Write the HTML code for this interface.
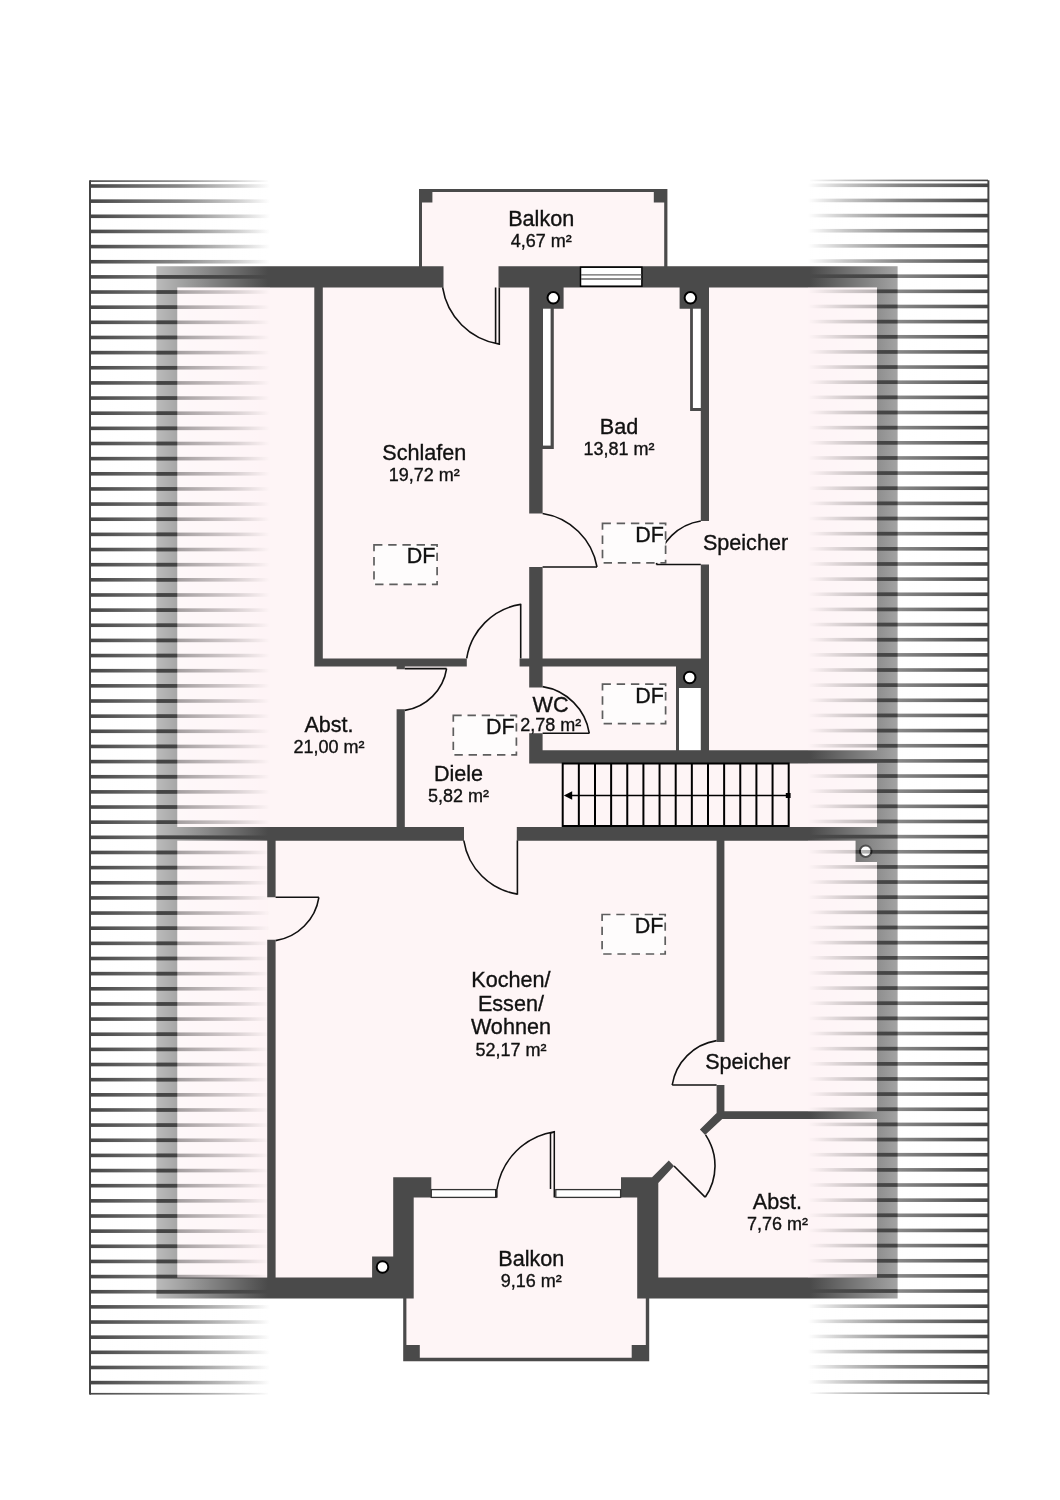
<!DOCTYPE html>
<html lang="de"><head><meta charset="utf-8"><title>Grundriss</title>
<style>html,body{margin:0;padding:0;background:#fff;} body{width:1060px;height:1500px;overflow:hidden;font-family:"Liberation Sans",sans-serif;} svg{display:block;will-change:transform;} text{fill:#111;stroke:#111;stroke-width:0.35px;}</style>
</head><body>
<svg width="1060" height="1500" viewBox="0 0 1060 1500" font-family="Liberation Sans, sans-serif" fill="#111"><defs>
<linearGradient id="gL" x1="90" y1="0" x2="270" y2="0" gradientUnits="userSpaceOnUse">
<stop offset="0" stop-color="#404040" stop-opacity="0.97"/><stop offset="0.5" stop-color="#404040" stop-opacity="0.62"/><stop offset="0.8" stop-color="#404040" stop-opacity="0.28"/><stop offset="1" stop-color="#404040" stop-opacity="0"/></linearGradient>
<linearGradient id="gR" x1="988" y1="0" x2="808" y2="0" gradientUnits="userSpaceOnUse">
<stop offset="0" stop-color="#404040" stop-opacity="0.97"/><stop offset="0.5" stop-color="#404040" stop-opacity="0.62"/><stop offset="0.8" stop-color="#404040" stop-opacity="0.28"/><stop offset="1" stop-color="#404040" stop-opacity="0"/></linearGradient>
<linearGradient id="wL" x1="90" y1="0" x2="268" y2="0" gradientUnits="userSpaceOnUse">
<stop offset="0" stop-color="#fff" stop-opacity="1"/><stop offset="1" stop-color="#fff" stop-opacity="0"/></linearGradient>
<linearGradient id="wR" x1="988" y1="0" x2="810" y2="0" gradientUnits="userSpaceOnUse">
<stop offset="0" stop-color="#fff" stop-opacity="1"/><stop offset="1" stop-color="#fff" stop-opacity="0"/></linearGradient>
</defs><rect x="157.00" y="266.50" width="740.50" height="1031.50" fill="#fef5f6" />
<rect x="419.00" y="189.00" width="248.40" height="78.00" fill="#fef5f6" />
<rect x="403.20" y="1290.00" width="246.00" height="71.20" fill="#fef5f6" />
<path d="M156.40,266.30H443.50V287.40H156.40ZM498.50,266.30H897.60V287.40H498.50ZM156.40,266.30H177.30V1298.40H156.40ZM877.00,266.30H897.60V1298.40H877.00ZM156.40,1277.60H413.70V1298.40H156.40ZM637.20,1277.60H897.60V1298.40H637.20ZM419.00,189.00H667.40V192.00H419.00ZM419.00,189.00H422.00V267.00H419.00ZM664.20,189.00H667.40V267.00H664.20ZM419.00,189.00H432.40V202.60H419.00ZM653.80,189.00H667.40V202.60H653.80ZM403.20,1298.00H406.40V1361.20H403.20ZM645.80,1298.00H649.20V1361.20H645.80ZM403.20,1357.80H649.20V1361.20H403.20ZM403.20,1345.00H419.80V1361.20H403.20ZM631.70,1345.00H649.20V1361.20H631.70ZM393.20,1177.30H413.70V1298.40H393.20ZM393.20,1177.30H431.30V1197.60H393.20ZM637.20,1177.30H658.30V1298.40H637.20ZM621.00,1177.30H658.30V1197.60H621.00ZM314.30,287.00H322.80V666.60H314.30ZM314.30,658.40H466.80V666.60H314.30ZM519.60,658.40H709.00V666.60H519.60ZM529.20,287.00H542.60V513.50H529.20ZM529.20,567.00H542.60V687.50H529.20ZM529.20,733.30H542.60V763.50H529.20ZM700.80,287.00H709.00V521.00H700.80ZM700.80,564.50H709.00V763.50H700.80ZM542.60,287.00H563.60V308.70H542.60ZM679.60,287.00H701.00V308.70H679.60ZM542.60,308.70H553.80V449.00H542.60ZM690.10,308.70H701.00V411.00H690.10ZM676.00,666.60H701.00V688.00H676.00ZM676.00,687.50H701.00V750.40H676.00ZM690.10,308.70H701.00V411.00H690.10ZM676.00,666.60H701.00V688.00H676.00ZM676.00,687.50H701.00V750.40H676.00ZM529.20,750.20H897.60V763.50H529.20ZM156.40,827.00H464.00V840.70H156.40ZM516.80,827.00H897.60V840.70H516.80ZM396.60,658.40H404.80V669.30H396.60ZM396.60,709.30H404.80V827.00H396.60ZM267.20,840.50H275.60V897.30H267.20ZM267.20,939.80H275.60V1277.60H267.20ZM716.60,840.50H724.40V1042.00H716.60ZM716.60,1085.00H724.40V1119.00H716.60ZM716.60,1111.30H897.50V1119.00H716.60ZM716.6,1111.3L724.4,1111.3L724.4,1117L705.1,1134.9L699.9,1129.4L716.6,1112.9ZM668.8,1160.4L674.0,1166.0L658.3,1183.0L651.8,1177.4ZM855.50,840.50H877.00V862.00H855.50ZM372.10,1256.50H393.20V1277.70H372.10Z" fill="#4a4a4a"/>
<rect x="543.0" y="308.7" width="7.60" height="136.90" fill="#fff"/>
<rect x="692.9" y="308.7" width="7.90" height="99.30" fill="#fff"/>
<rect x="679.0" y="688.0" width="21.80" height="62.20" fill="#fff"/>
<circle cx="553.3" cy="297.8" r="5.8" fill="#fff" stroke="#000" stroke-width="2.0"/>
<circle cx="690.4" cy="297.8" r="5.8" fill="#fff" stroke="#000" stroke-width="2.0"/>
<circle cx="689.7" cy="677.5" r="5.8" fill="#fff" stroke="#000" stroke-width="2.0"/>
<circle cx="865.7" cy="851.2" r="5.8" fill="#fff" stroke="#000" stroke-width="2.0"/>
<circle cx="382.5" cy="1267.0" r="5.8" fill="#fff" stroke="#000" stroke-width="2.0"/>
<rect x="580.5" y="267.2" width="61.4" height="19.0" fill="#fff" stroke="#000" stroke-width="1.5"/>
<line x1="581.00" y1="274.90" x2="641.50" y2="274.90" stroke="#666" stroke-width="1.3"/>
<line x1="581.00" y1="279.00" x2="641.50" y2="279.00" stroke="#666" stroke-width="1.3"/>
<rect x="431.3" y="1189.6" width="64.8" height="7.8" fill="#fff" stroke="#333" stroke-width="1.3"/>
<rect x="555.8" y="1189.6" width="64.8" height="7.8" fill="#fff" stroke="#333" stroke-width="1.3"/>
<rect x="495.00" y="1189.00" width="2.60" height="8.60" fill="#222" />
<path d="M442.6,287.4 A68,68 0 0 0 499.3,344.1 V287.4 M495.6,287.6 V343.8" fill="none" stroke="#111" stroke-width="1.6"/>
<line x1="542.60" y1="567.00" x2="597.00" y2="567.00" stroke="#111" stroke-width="1.6"/>
<path d="M542.60,513.50 A65.28,65.28 0 0 1 597.00,567.00" fill="none" stroke="#111" stroke-width="1.6"/>
<line x1="700.80" y1="564.50" x2="656.40" y2="564.50" stroke="#111" stroke-width="1.6"/>
<path d="M656.40,564.50 A53.28,53.28 0 0 1 700.80,521.00" fill="none" stroke="#111" stroke-width="1.6"/>
<line x1="520.70" y1="603.80" x2="520.70" y2="658.40" stroke="#111" stroke-width="1.6"/>
<path d="M466.70,658.40 A64.80,64.80 0 0 1 520.70,604.40" fill="none" stroke="#111" stroke-width="1.6"/>
<line x1="404.80" y1="668.60" x2="446.60" y2="668.60" stroke="#111" stroke-width="1.6"/>
<path d="M446.60,668.60 A50.16,50.16 0 0 1 404.80,710.40" fill="none" stroke="#111" stroke-width="1.6"/>
<line x1="542.60" y1="733.30" x2="589.30" y2="733.30" stroke="#111" stroke-width="1.6"/>
<path d="M542.60,686.60 A56.04,56.04 0 0 1 589.30,733.30" fill="none" stroke="#111" stroke-width="1.6"/>
<line x1="517.40" y1="840.50" x2="517.40" y2="894.70" stroke="#111" stroke-width="1.6"/>
<path d="M463.80,840.50 A64.32,64.32 0 0 0 517.40,894.10" fill="none" stroke="#111" stroke-width="1.6"/>
<line x1="275.60" y1="897.30" x2="318.90" y2="897.30" stroke="#111" stroke-width="1.6"/>
<path d="M318.90,897.30 A51.96,51.96 0 0 1 275.60,940.60" fill="none" stroke="#111" stroke-width="1.6"/>
<line x1="716.60" y1="1085.00" x2="672.20" y2="1085.00" stroke="#111" stroke-width="1.6"/>
<path d="M672.20,1085.00 A53.28,53.28 0 0 1 716.60,1040.60" fill="none" stroke="#111" stroke-width="1.6"/>
<line x1="674.00" y1="1166.00" x2="705.10" y2="1197.10" stroke="#111" stroke-width="1.6"/>
<path d="M705.2,1197.3 A55.5,55.5 0 0 0 705.6,1134.9" fill="none" stroke="#111" stroke-width="1.6"/>
<path d="M497,1189 A68.8,68.8 0 0 1 554.3,1131.7 V1197.5 M554.3,1131.7 L550.5,1133.4 V1189" fill="none" stroke="#111" stroke-width="1.5" stroke-linejoin="miter"/>
<rect x="562.7" y="763.5" width="226.0" height="62.5" fill="none" stroke="#000" stroke-width="2"/>
<line x1="578.84" y1="763.50" x2="578.84" y2="826.00" stroke="#000" stroke-width="2"/>
<line x1="594.99" y1="763.50" x2="594.99" y2="826.00" stroke="#000" stroke-width="2"/>
<line x1="611.13" y1="763.50" x2="611.13" y2="826.00" stroke="#000" stroke-width="2"/>
<line x1="627.27" y1="763.50" x2="627.27" y2="826.00" stroke="#000" stroke-width="2"/>
<line x1="643.41" y1="763.50" x2="643.41" y2="826.00" stroke="#000" stroke-width="2"/>
<line x1="659.56" y1="763.50" x2="659.56" y2="826.00" stroke="#000" stroke-width="2"/>
<line x1="675.70" y1="763.50" x2="675.70" y2="826.00" stroke="#000" stroke-width="2"/>
<line x1="691.84" y1="763.50" x2="691.84" y2="826.00" stroke="#000" stroke-width="2"/>
<line x1="707.99" y1="763.50" x2="707.99" y2="826.00" stroke="#000" stroke-width="2"/>
<line x1="724.13" y1="763.50" x2="724.13" y2="826.00" stroke="#000" stroke-width="2"/>
<line x1="740.27" y1="763.50" x2="740.27" y2="826.00" stroke="#000" stroke-width="2"/>
<line x1="756.41" y1="763.50" x2="756.41" y2="826.00" stroke="#000" stroke-width="2"/>
<line x1="772.56" y1="763.50" x2="772.56" y2="826.00" stroke="#000" stroke-width="2"/>
<line x1="570.00" y1="795.50" x2="788.00" y2="795.50" stroke="#000" stroke-width="1.6"/>
<polygon points="563.8,795.5 572.2,791.2 572.2,799.8" fill="#000"/>
<rect x="785.80" y="793.00" width="4.80" height="5.00" fill="#000" />
<rect x="374.00" y="544.80" width="63.1" height="39.5" fill="#fefcfc" stroke="#5e5e5e" stroke-width="1.7" stroke-dasharray="8.4,5.8"/>
<text x="435.30" y="563.40" font-size="21.5" text-anchor="end">DF</text>
<rect x="602.50" y="523.40" width="63.1" height="39.5" fill="#fefcfc" stroke="#5e5e5e" stroke-width="1.7" stroke-dasharray="8.4,5.8"/>
<text x="663.80" y="542.00" font-size="21.5" text-anchor="end">DF</text>
<rect x="602.50" y="684.10" width="63.1" height="39.5" fill="#fefcfc" stroke="#5e5e5e" stroke-width="1.7" stroke-dasharray="8.4,5.8"/>
<text x="663.80" y="702.70" font-size="21.5" text-anchor="end">DF</text>
<rect x="453.30" y="715.30" width="63.1" height="39.5" fill="#fefcfc" stroke="#5e5e5e" stroke-width="1.7" stroke-dasharray="8.4,5.8"/>
<text x="514.60" y="733.90" font-size="21.5" text-anchor="end">DF</text>
<rect x="602.10" y="914.50" width="63.1" height="39.5" fill="#fefcfc" stroke="#5e5e5e" stroke-width="1.7" stroke-dasharray="8.4,5.8"/>
<text x="663.40" y="933.10" font-size="21.5" text-anchor="end">DF</text>
<text x="541.20" y="225.80" font-size="21.6" text-anchor="middle">Balkon</text>
<text x="541.20" y="246.80" font-size="18.0" text-anchor="middle">4,67 m²</text>
<text x="424.30" y="459.70" font-size="21.6" text-anchor="middle">Schlafen</text>
<text x="424.30" y="480.70" font-size="18.0" text-anchor="middle">19,72 m²</text>
<text x="619.00" y="433.90" font-size="21.6" text-anchor="middle">Bad</text>
<text x="619.00" y="454.90" font-size="18.0" text-anchor="middle">13,81 m²</text>
<text x="745.50" y="549.60" font-size="21.6" text-anchor="middle">Speicher</text>
<text x="329.00" y="731.70" font-size="21.6" text-anchor="middle">Abst.</text>
<text x="329.00" y="752.70" font-size="18.0" text-anchor="middle">21,00 m²</text>
<text x="550.50" y="712.00" font-size="21.6" text-anchor="middle">WC</text>
<text x="550.70" y="730.80" font-size="18.0" text-anchor="middle">2,78 m²</text>
<text x="458.50" y="780.50" font-size="21.6" text-anchor="middle">Diele</text>
<text x="458.50" y="801.50" font-size="18.0" text-anchor="middle">5,82 m²</text>
<text x="510.90" y="986.90" font-size="21.6" text-anchor="middle">Kochen/</text>
<text x="510.90" y="1010.60" font-size="21.6" text-anchor="middle">Essen/</text>
<text x="510.90" y="1034.40" font-size="21.6" text-anchor="middle">Wohnen</text>
<text x="510.90" y="1055.50" font-size="18.0" text-anchor="middle">52,17 m²</text>
<text x="747.80" y="1069.30" font-size="21.6" text-anchor="middle">Speicher</text>
<text x="777.40" y="1209.40" font-size="21.6" text-anchor="middle">Abst.</text>
<text x="777.40" y="1230.40" font-size="18.0" text-anchor="middle">7,76 m²</text>
<text x="531.30" y="1265.50" font-size="21.6" text-anchor="middle">Balkon</text>
<text x="531.30" y="1286.50" font-size="18.0" text-anchor="middle">9,16 m²</text>
<rect x="90" y="182.00" width="178" height="2.20" fill="url(#wL)"/>
<rect x="810" y="181.30" width="178" height="2.20" fill="url(#wR)"/>
<rect x="90" y="187.80" width="178" height="11.55" fill="url(#wL)"/>
<rect x="810" y="187.10" width="178" height="11.55" fill="url(#wR)"/>
<rect x="90" y="202.95" width="178" height="11.55" fill="url(#wL)"/>
<rect x="810" y="202.25" width="178" height="11.55" fill="url(#wR)"/>
<rect x="90" y="218.09" width="178" height="11.55" fill="url(#wL)"/>
<rect x="810" y="217.39" width="178" height="11.55" fill="url(#wR)"/>
<rect x="90" y="233.24" width="178" height="11.55" fill="url(#wL)"/>
<rect x="810" y="232.54" width="178" height="11.55" fill="url(#wR)"/>
<rect x="90" y="248.39" width="178" height="11.55" fill="url(#wL)"/>
<rect x="810" y="247.69" width="178" height="11.55" fill="url(#wR)"/>
<rect x="90" y="263.54" width="178" height="11.55" fill="url(#wL)"/>
<rect x="810" y="262.84" width="178" height="11.55" fill="url(#wR)"/>
<rect x="90" y="278.68" width="178" height="11.55" fill="url(#wL)"/>
<rect x="810" y="277.98" width="178" height="11.55" fill="url(#wR)"/>
<rect x="90" y="293.83" width="178" height="11.55" fill="url(#wL)"/>
<rect x="810" y="293.13" width="178" height="11.55" fill="url(#wR)"/>
<rect x="90" y="308.98" width="178" height="11.55" fill="url(#wL)"/>
<rect x="810" y="308.28" width="178" height="11.55" fill="url(#wR)"/>
<rect x="90" y="324.12" width="178" height="11.55" fill="url(#wL)"/>
<rect x="810" y="323.42" width="178" height="11.55" fill="url(#wR)"/>
<rect x="90" y="339.27" width="178" height="11.55" fill="url(#wL)"/>
<rect x="810" y="338.57" width="178" height="11.55" fill="url(#wR)"/>
<rect x="90" y="354.42" width="178" height="11.55" fill="url(#wL)"/>
<rect x="810" y="353.72" width="178" height="11.55" fill="url(#wR)"/>
<rect x="90" y="369.56" width="178" height="11.55" fill="url(#wL)"/>
<rect x="810" y="368.86" width="178" height="11.55" fill="url(#wR)"/>
<rect x="90" y="384.71" width="178" height="11.55" fill="url(#wL)"/>
<rect x="810" y="384.01" width="178" height="11.55" fill="url(#wR)"/>
<rect x="90" y="399.86" width="178" height="11.55" fill="url(#wL)"/>
<rect x="810" y="399.16" width="178" height="11.55" fill="url(#wR)"/>
<rect x="90" y="415.01" width="178" height="11.55" fill="url(#wL)"/>
<rect x="810" y="414.31" width="178" height="11.55" fill="url(#wR)"/>
<rect x="90" y="430.15" width="178" height="11.55" fill="url(#wL)"/>
<rect x="810" y="429.45" width="178" height="11.55" fill="url(#wR)"/>
<rect x="90" y="445.30" width="178" height="11.55" fill="url(#wL)"/>
<rect x="810" y="444.60" width="178" height="11.55" fill="url(#wR)"/>
<rect x="90" y="460.45" width="178" height="11.55" fill="url(#wL)"/>
<rect x="810" y="459.75" width="178" height="11.55" fill="url(#wR)"/>
<rect x="90" y="475.59" width="178" height="11.55" fill="url(#wL)"/>
<rect x="810" y="474.89" width="178" height="11.55" fill="url(#wR)"/>
<rect x="90" y="490.74" width="178" height="11.55" fill="url(#wL)"/>
<rect x="810" y="490.04" width="178" height="11.55" fill="url(#wR)"/>
<rect x="90" y="505.89" width="178" height="11.55" fill="url(#wL)"/>
<rect x="810" y="505.19" width="178" height="11.55" fill="url(#wR)"/>
<rect x="90" y="521.03" width="178" height="11.55" fill="url(#wL)"/>
<rect x="810" y="520.33" width="178" height="11.55" fill="url(#wR)"/>
<rect x="90" y="536.18" width="178" height="11.55" fill="url(#wL)"/>
<rect x="810" y="535.48" width="178" height="11.55" fill="url(#wR)"/>
<rect x="90" y="551.33" width="178" height="11.55" fill="url(#wL)"/>
<rect x="810" y="550.63" width="178" height="11.55" fill="url(#wR)"/>
<rect x="90" y="566.47" width="178" height="11.55" fill="url(#wL)"/>
<rect x="810" y="565.77" width="178" height="11.55" fill="url(#wR)"/>
<rect x="90" y="581.62" width="178" height="11.55" fill="url(#wL)"/>
<rect x="810" y="580.92" width="178" height="11.55" fill="url(#wR)"/>
<rect x="90" y="596.77" width="178" height="11.55" fill="url(#wL)"/>
<rect x="810" y="596.07" width="178" height="11.55" fill="url(#wR)"/>
<rect x="90" y="611.92" width="178" height="11.55" fill="url(#wL)"/>
<rect x="810" y="611.22" width="178" height="11.55" fill="url(#wR)"/>
<rect x="90" y="627.06" width="178" height="11.55" fill="url(#wL)"/>
<rect x="810" y="626.36" width="178" height="11.55" fill="url(#wR)"/>
<rect x="90" y="642.21" width="178" height="11.55" fill="url(#wL)"/>
<rect x="810" y="641.51" width="178" height="11.55" fill="url(#wR)"/>
<rect x="90" y="657.36" width="178" height="11.55" fill="url(#wL)"/>
<rect x="810" y="656.66" width="178" height="11.55" fill="url(#wR)"/>
<rect x="90" y="672.50" width="178" height="11.55" fill="url(#wL)"/>
<rect x="810" y="671.80" width="178" height="11.55" fill="url(#wR)"/>
<rect x="90" y="687.65" width="178" height="11.55" fill="url(#wL)"/>
<rect x="810" y="686.95" width="178" height="11.55" fill="url(#wR)"/>
<rect x="90" y="702.80" width="178" height="11.55" fill="url(#wL)"/>
<rect x="810" y="702.10" width="178" height="11.55" fill="url(#wR)"/>
<rect x="90" y="717.94" width="178" height="11.55" fill="url(#wL)"/>
<rect x="810" y="717.24" width="178" height="11.55" fill="url(#wR)"/>
<rect x="90" y="733.09" width="178" height="11.55" fill="url(#wL)"/>
<rect x="810" y="732.39" width="178" height="11.55" fill="url(#wR)"/>
<rect x="90" y="748.24" width="178" height="11.55" fill="url(#wL)"/>
<rect x="810" y="747.54" width="178" height="11.55" fill="url(#wR)"/>
<rect x="90" y="763.39" width="178" height="11.55" fill="url(#wL)"/>
<rect x="810" y="762.69" width="178" height="11.55" fill="url(#wR)"/>
<rect x="90" y="778.53" width="178" height="11.55" fill="url(#wL)"/>
<rect x="810" y="777.83" width="178" height="11.55" fill="url(#wR)"/>
<rect x="90" y="793.68" width="178" height="11.55" fill="url(#wL)"/>
<rect x="810" y="792.98" width="178" height="11.55" fill="url(#wR)"/>
<rect x="90" y="808.83" width="178" height="11.55" fill="url(#wL)"/>
<rect x="810" y="808.13" width="178" height="11.55" fill="url(#wR)"/>
<rect x="90" y="823.97" width="178" height="11.55" fill="url(#wL)"/>
<rect x="810" y="823.27" width="178" height="11.55" fill="url(#wR)"/>
<rect x="90" y="839.12" width="178" height="11.55" fill="url(#wL)"/>
<rect x="810" y="838.42" width="178" height="11.55" fill="url(#wR)"/>
<rect x="90" y="854.27" width="178" height="11.55" fill="url(#wL)"/>
<rect x="810" y="853.57" width="178" height="11.55" fill="url(#wR)"/>
<rect x="90" y="869.41" width="178" height="11.55" fill="url(#wL)"/>
<rect x="810" y="868.71" width="178" height="11.55" fill="url(#wR)"/>
<rect x="90" y="884.56" width="178" height="11.55" fill="url(#wL)"/>
<rect x="810" y="883.86" width="178" height="11.55" fill="url(#wR)"/>
<rect x="90" y="899.71" width="178" height="11.55" fill="url(#wL)"/>
<rect x="810" y="899.01" width="178" height="11.55" fill="url(#wR)"/>
<rect x="90" y="914.86" width="178" height="11.55" fill="url(#wL)"/>
<rect x="810" y="914.16" width="178" height="11.55" fill="url(#wR)"/>
<rect x="90" y="930.00" width="178" height="11.55" fill="url(#wL)"/>
<rect x="810" y="929.30" width="178" height="11.55" fill="url(#wR)"/>
<rect x="90" y="945.15" width="178" height="11.55" fill="url(#wL)"/>
<rect x="810" y="944.45" width="178" height="11.55" fill="url(#wR)"/>
<rect x="90" y="960.30" width="178" height="11.55" fill="url(#wL)"/>
<rect x="810" y="959.60" width="178" height="11.55" fill="url(#wR)"/>
<rect x="90" y="975.44" width="178" height="11.55" fill="url(#wL)"/>
<rect x="810" y="974.74" width="178" height="11.55" fill="url(#wR)"/>
<rect x="90" y="990.59" width="178" height="11.55" fill="url(#wL)"/>
<rect x="810" y="989.89" width="178" height="11.55" fill="url(#wR)"/>
<rect x="90" y="1005.74" width="178" height="11.55" fill="url(#wL)"/>
<rect x="810" y="1005.04" width="178" height="11.55" fill="url(#wR)"/>
<rect x="90" y="1020.88" width="178" height="11.55" fill="url(#wL)"/>
<rect x="810" y="1020.18" width="178" height="11.55" fill="url(#wR)"/>
<rect x="90" y="1036.03" width="178" height="11.55" fill="url(#wL)"/>
<rect x="810" y="1035.33" width="178" height="11.55" fill="url(#wR)"/>
<rect x="90" y="1051.18" width="178" height="11.55" fill="url(#wL)"/>
<rect x="810" y="1050.48" width="178" height="11.55" fill="url(#wR)"/>
<rect x="90" y="1066.33" width="178" height="11.55" fill="url(#wL)"/>
<rect x="810" y="1065.63" width="178" height="11.55" fill="url(#wR)"/>
<rect x="90" y="1081.47" width="178" height="11.55" fill="url(#wL)"/>
<rect x="810" y="1080.77" width="178" height="11.55" fill="url(#wR)"/>
<rect x="90" y="1096.62" width="178" height="11.55" fill="url(#wL)"/>
<rect x="810" y="1095.92" width="178" height="11.55" fill="url(#wR)"/>
<rect x="90" y="1111.77" width="178" height="11.55" fill="url(#wL)"/>
<rect x="810" y="1111.07" width="178" height="11.55" fill="url(#wR)"/>
<rect x="90" y="1126.91" width="178" height="11.55" fill="url(#wL)"/>
<rect x="810" y="1126.21" width="178" height="11.55" fill="url(#wR)"/>
<rect x="90" y="1142.06" width="178" height="11.55" fill="url(#wL)"/>
<rect x="810" y="1141.36" width="178" height="11.55" fill="url(#wR)"/>
<rect x="90" y="1157.21" width="178" height="11.55" fill="url(#wL)"/>
<rect x="810" y="1156.51" width="178" height="11.55" fill="url(#wR)"/>
<rect x="90" y="1172.36" width="178" height="11.55" fill="url(#wL)"/>
<rect x="810" y="1171.65" width="178" height="11.55" fill="url(#wR)"/>
<rect x="90" y="1187.50" width="178" height="11.55" fill="url(#wL)"/>
<rect x="810" y="1186.80" width="178" height="11.55" fill="url(#wR)"/>
<rect x="90" y="1202.65" width="178" height="11.55" fill="url(#wL)"/>
<rect x="810" y="1201.95" width="178" height="11.55" fill="url(#wR)"/>
<rect x="90" y="1217.80" width="178" height="11.55" fill="url(#wL)"/>
<rect x="810" y="1217.10" width="178" height="11.55" fill="url(#wR)"/>
<rect x="90" y="1232.94" width="178" height="11.55" fill="url(#wL)"/>
<rect x="810" y="1232.24" width="178" height="11.55" fill="url(#wR)"/>
<rect x="90" y="1248.09" width="178" height="11.55" fill="url(#wL)"/>
<rect x="810" y="1247.39" width="178" height="11.55" fill="url(#wR)"/>
<rect x="90" y="1263.24" width="178" height="11.55" fill="url(#wL)"/>
<rect x="810" y="1262.54" width="178" height="11.55" fill="url(#wR)"/>
<rect x="90" y="1278.38" width="178" height="11.55" fill="url(#wL)"/>
<rect x="810" y="1277.68" width="178" height="11.55" fill="url(#wR)"/>
<rect x="90" y="1293.53" width="178" height="11.55" fill="url(#wL)"/>
<rect x="810" y="1292.83" width="178" height="11.55" fill="url(#wR)"/>
<rect x="90" y="1308.68" width="178" height="11.55" fill="url(#wL)"/>
<rect x="810" y="1307.98" width="178" height="11.55" fill="url(#wR)"/>
<rect x="90" y="1323.83" width="178" height="11.55" fill="url(#wL)"/>
<rect x="810" y="1323.12" width="178" height="11.55" fill="url(#wR)"/>
<rect x="90" y="1338.97" width="178" height="11.55" fill="url(#wL)"/>
<rect x="810" y="1338.27" width="178" height="11.55" fill="url(#wR)"/>
<rect x="90" y="1354.12" width="178" height="11.55" fill="url(#wL)"/>
<rect x="810" y="1353.42" width="178" height="11.55" fill="url(#wR)"/>
<rect x="90" y="1369.27" width="178" height="11.55" fill="url(#wL)"/>
<rect x="810" y="1368.57" width="178" height="11.55" fill="url(#wR)"/>
<rect x="90" y="1384.41" width="178" height="8.59" fill="url(#wL)"/>
<rect x="810" y="1383.71" width="178" height="8.59" fill="url(#wR)"/>
<rect x="90" y="184.20" width="182" height="3.6" fill="url(#gL)"/>
<rect x="806" y="183.50" width="182" height="3.6" fill="url(#gR)"/>
<rect x="90" y="199.35" width="182" height="3.6" fill="url(#gL)"/>
<rect x="806" y="198.65" width="182" height="3.6" fill="url(#gR)"/>
<rect x="90" y="214.49" width="182" height="3.6" fill="url(#gL)"/>
<rect x="806" y="213.79" width="182" height="3.6" fill="url(#gR)"/>
<rect x="90" y="229.64" width="182" height="3.6" fill="url(#gL)"/>
<rect x="806" y="228.94" width="182" height="3.6" fill="url(#gR)"/>
<rect x="90" y="244.79" width="182" height="3.6" fill="url(#gL)"/>
<rect x="806" y="244.09" width="182" height="3.6" fill="url(#gR)"/>
<rect x="90" y="259.94" width="182" height="3.6" fill="url(#gL)"/>
<rect x="806" y="259.24" width="182" height="3.6" fill="url(#gR)"/>
<rect x="90" y="275.08" width="182" height="3.6" fill="url(#gL)"/>
<rect x="806" y="274.38" width="182" height="3.6" fill="url(#gR)"/>
<rect x="90" y="290.23" width="182" height="3.6" fill="url(#gL)"/>
<rect x="806" y="289.53" width="182" height="3.6" fill="url(#gR)"/>
<rect x="90" y="305.38" width="182" height="3.6" fill="url(#gL)"/>
<rect x="806" y="304.68" width="182" height="3.6" fill="url(#gR)"/>
<rect x="90" y="320.52" width="182" height="3.6" fill="url(#gL)"/>
<rect x="806" y="319.82" width="182" height="3.6" fill="url(#gR)"/>
<rect x="90" y="335.67" width="182" height="3.6" fill="url(#gL)"/>
<rect x="806" y="334.97" width="182" height="3.6" fill="url(#gR)"/>
<rect x="90" y="350.82" width="182" height="3.6" fill="url(#gL)"/>
<rect x="806" y="350.12" width="182" height="3.6" fill="url(#gR)"/>
<rect x="90" y="365.96" width="182" height="3.6" fill="url(#gL)"/>
<rect x="806" y="365.26" width="182" height="3.6" fill="url(#gR)"/>
<rect x="90" y="381.11" width="182" height="3.6" fill="url(#gL)"/>
<rect x="806" y="380.41" width="182" height="3.6" fill="url(#gR)"/>
<rect x="90" y="396.26" width="182" height="3.6" fill="url(#gL)"/>
<rect x="806" y="395.56" width="182" height="3.6" fill="url(#gR)"/>
<rect x="90" y="411.41" width="182" height="3.6" fill="url(#gL)"/>
<rect x="806" y="410.71" width="182" height="3.6" fill="url(#gR)"/>
<rect x="90" y="426.55" width="182" height="3.6" fill="url(#gL)"/>
<rect x="806" y="425.85" width="182" height="3.6" fill="url(#gR)"/>
<rect x="90" y="441.70" width="182" height="3.6" fill="url(#gL)"/>
<rect x="806" y="441.00" width="182" height="3.6" fill="url(#gR)"/>
<rect x="90" y="456.85" width="182" height="3.6" fill="url(#gL)"/>
<rect x="806" y="456.15" width="182" height="3.6" fill="url(#gR)"/>
<rect x="90" y="471.99" width="182" height="3.6" fill="url(#gL)"/>
<rect x="806" y="471.29" width="182" height="3.6" fill="url(#gR)"/>
<rect x="90" y="487.14" width="182" height="3.6" fill="url(#gL)"/>
<rect x="806" y="486.44" width="182" height="3.6" fill="url(#gR)"/>
<rect x="90" y="502.29" width="182" height="3.6" fill="url(#gL)"/>
<rect x="806" y="501.59" width="182" height="3.6" fill="url(#gR)"/>
<rect x="90" y="517.43" width="182" height="3.6" fill="url(#gL)"/>
<rect x="806" y="516.73" width="182" height="3.6" fill="url(#gR)"/>
<rect x="90" y="532.58" width="182" height="3.6" fill="url(#gL)"/>
<rect x="806" y="531.88" width="182" height="3.6" fill="url(#gR)"/>
<rect x="90" y="547.73" width="182" height="3.6" fill="url(#gL)"/>
<rect x="806" y="547.03" width="182" height="3.6" fill="url(#gR)"/>
<rect x="90" y="562.88" width="182" height="3.6" fill="url(#gL)"/>
<rect x="806" y="562.17" width="182" height="3.6" fill="url(#gR)"/>
<rect x="90" y="578.02" width="182" height="3.6" fill="url(#gL)"/>
<rect x="806" y="577.32" width="182" height="3.6" fill="url(#gR)"/>
<rect x="90" y="593.17" width="182" height="3.6" fill="url(#gL)"/>
<rect x="806" y="592.47" width="182" height="3.6" fill="url(#gR)"/>
<rect x="90" y="608.32" width="182" height="3.6" fill="url(#gL)"/>
<rect x="806" y="607.62" width="182" height="3.6" fill="url(#gR)"/>
<rect x="90" y="623.46" width="182" height="3.6" fill="url(#gL)"/>
<rect x="806" y="622.76" width="182" height="3.6" fill="url(#gR)"/>
<rect x="90" y="638.61" width="182" height="3.6" fill="url(#gL)"/>
<rect x="806" y="637.91" width="182" height="3.6" fill="url(#gR)"/>
<rect x="90" y="653.76" width="182" height="3.6" fill="url(#gL)"/>
<rect x="806" y="653.06" width="182" height="3.6" fill="url(#gR)"/>
<rect x="90" y="668.90" width="182" height="3.6" fill="url(#gL)"/>
<rect x="806" y="668.20" width="182" height="3.6" fill="url(#gR)"/>
<rect x="90" y="684.05" width="182" height="3.6" fill="url(#gL)"/>
<rect x="806" y="683.35" width="182" height="3.6" fill="url(#gR)"/>
<rect x="90" y="699.20" width="182" height="3.6" fill="url(#gL)"/>
<rect x="806" y="698.50" width="182" height="3.6" fill="url(#gR)"/>
<rect x="90" y="714.35" width="182" height="3.6" fill="url(#gL)"/>
<rect x="806" y="713.64" width="182" height="3.6" fill="url(#gR)"/>
<rect x="90" y="729.49" width="182" height="3.6" fill="url(#gL)"/>
<rect x="806" y="728.79" width="182" height="3.6" fill="url(#gR)"/>
<rect x="90" y="744.64" width="182" height="3.6" fill="url(#gL)"/>
<rect x="806" y="743.94" width="182" height="3.6" fill="url(#gR)"/>
<rect x="90" y="759.79" width="182" height="3.6" fill="url(#gL)"/>
<rect x="806" y="759.09" width="182" height="3.6" fill="url(#gR)"/>
<rect x="90" y="774.93" width="182" height="3.6" fill="url(#gL)"/>
<rect x="806" y="774.23" width="182" height="3.6" fill="url(#gR)"/>
<rect x="90" y="790.08" width="182" height="3.6" fill="url(#gL)"/>
<rect x="806" y="789.38" width="182" height="3.6" fill="url(#gR)"/>
<rect x="90" y="805.23" width="182" height="3.6" fill="url(#gL)"/>
<rect x="806" y="804.53" width="182" height="3.6" fill="url(#gR)"/>
<rect x="90" y="820.37" width="182" height="3.6" fill="url(#gL)"/>
<rect x="806" y="819.67" width="182" height="3.6" fill="url(#gR)"/>
<rect x="90" y="835.52" width="182" height="3.6" fill="url(#gL)"/>
<rect x="806" y="834.82" width="182" height="3.6" fill="url(#gR)"/>
<rect x="90" y="850.67" width="182" height="3.6" fill="url(#gL)"/>
<rect x="806" y="849.97" width="182" height="3.6" fill="url(#gR)"/>
<rect x="90" y="865.82" width="182" height="3.6" fill="url(#gL)"/>
<rect x="806" y="865.12" width="182" height="3.6" fill="url(#gR)"/>
<rect x="90" y="880.96" width="182" height="3.6" fill="url(#gL)"/>
<rect x="806" y="880.26" width="182" height="3.6" fill="url(#gR)"/>
<rect x="90" y="896.11" width="182" height="3.6" fill="url(#gL)"/>
<rect x="806" y="895.41" width="182" height="3.6" fill="url(#gR)"/>
<rect x="90" y="911.26" width="182" height="3.6" fill="url(#gL)"/>
<rect x="806" y="910.56" width="182" height="3.6" fill="url(#gR)"/>
<rect x="90" y="926.40" width="182" height="3.6" fill="url(#gL)"/>
<rect x="806" y="925.70" width="182" height="3.6" fill="url(#gR)"/>
<rect x="90" y="941.55" width="182" height="3.6" fill="url(#gL)"/>
<rect x="806" y="940.85" width="182" height="3.6" fill="url(#gR)"/>
<rect x="90" y="956.70" width="182" height="3.6" fill="url(#gL)"/>
<rect x="806" y="956.00" width="182" height="3.6" fill="url(#gR)"/>
<rect x="90" y="971.84" width="182" height="3.6" fill="url(#gL)"/>
<rect x="806" y="971.14" width="182" height="3.6" fill="url(#gR)"/>
<rect x="90" y="986.99" width="182" height="3.6" fill="url(#gL)"/>
<rect x="806" y="986.29" width="182" height="3.6" fill="url(#gR)"/>
<rect x="90" y="1002.14" width="182" height="3.6" fill="url(#gL)"/>
<rect x="806" y="1001.44" width="182" height="3.6" fill="url(#gR)"/>
<rect x="90" y="1017.29" width="182" height="3.6" fill="url(#gL)"/>
<rect x="806" y="1016.59" width="182" height="3.6" fill="url(#gR)"/>
<rect x="90" y="1032.43" width="182" height="3.6" fill="url(#gL)"/>
<rect x="806" y="1031.73" width="182" height="3.6" fill="url(#gR)"/>
<rect x="90" y="1047.58" width="182" height="3.6" fill="url(#gL)"/>
<rect x="806" y="1046.88" width="182" height="3.6" fill="url(#gR)"/>
<rect x="90" y="1062.73" width="182" height="3.6" fill="url(#gL)"/>
<rect x="806" y="1062.03" width="182" height="3.6" fill="url(#gR)"/>
<rect x="90" y="1077.87" width="182" height="3.6" fill="url(#gL)"/>
<rect x="806" y="1077.17" width="182" height="3.6" fill="url(#gR)"/>
<rect x="90" y="1093.02" width="182" height="3.6" fill="url(#gL)"/>
<rect x="806" y="1092.32" width="182" height="3.6" fill="url(#gR)"/>
<rect x="90" y="1108.17" width="182" height="3.6" fill="url(#gL)"/>
<rect x="806" y="1107.47" width="182" height="3.6" fill="url(#gR)"/>
<rect x="90" y="1123.31" width="182" height="3.6" fill="url(#gL)"/>
<rect x="806" y="1122.61" width="182" height="3.6" fill="url(#gR)"/>
<rect x="90" y="1138.46" width="182" height="3.6" fill="url(#gL)"/>
<rect x="806" y="1137.76" width="182" height="3.6" fill="url(#gR)"/>
<rect x="90" y="1153.61" width="182" height="3.6" fill="url(#gL)"/>
<rect x="806" y="1152.91" width="182" height="3.6" fill="url(#gR)"/>
<rect x="90" y="1168.76" width="182" height="3.6" fill="url(#gL)"/>
<rect x="806" y="1168.06" width="182" height="3.6" fill="url(#gR)"/>
<rect x="90" y="1183.90" width="182" height="3.6" fill="url(#gL)"/>
<rect x="806" y="1183.20" width="182" height="3.6" fill="url(#gR)"/>
<rect x="90" y="1199.05" width="182" height="3.6" fill="url(#gL)"/>
<rect x="806" y="1198.35" width="182" height="3.6" fill="url(#gR)"/>
<rect x="90" y="1214.20" width="182" height="3.6" fill="url(#gL)"/>
<rect x="806" y="1213.50" width="182" height="3.6" fill="url(#gR)"/>
<rect x="90" y="1229.34" width="182" height="3.6" fill="url(#gL)"/>
<rect x="806" y="1228.64" width="182" height="3.6" fill="url(#gR)"/>
<rect x="90" y="1244.49" width="182" height="3.6" fill="url(#gL)"/>
<rect x="806" y="1243.79" width="182" height="3.6" fill="url(#gR)"/>
<rect x="90" y="1259.64" width="182" height="3.6" fill="url(#gL)"/>
<rect x="806" y="1258.94" width="182" height="3.6" fill="url(#gR)"/>
<rect x="90" y="1274.78" width="182" height="3.6" fill="url(#gL)"/>
<rect x="806" y="1274.08" width="182" height="3.6" fill="url(#gR)"/>
<rect x="90" y="1289.93" width="182" height="3.6" fill="url(#gL)"/>
<rect x="806" y="1289.23" width="182" height="3.6" fill="url(#gR)"/>
<rect x="90" y="1305.08" width="182" height="3.6" fill="url(#gL)"/>
<rect x="806" y="1304.38" width="182" height="3.6" fill="url(#gR)"/>
<rect x="90" y="1320.23" width="182" height="3.6" fill="url(#gL)"/>
<rect x="806" y="1319.53" width="182" height="3.6" fill="url(#gR)"/>
<rect x="90" y="1335.37" width="182" height="3.6" fill="url(#gL)"/>
<rect x="806" y="1334.67" width="182" height="3.6" fill="url(#gR)"/>
<rect x="90" y="1350.52" width="182" height="3.6" fill="url(#gL)"/>
<rect x="806" y="1349.82" width="182" height="3.6" fill="url(#gR)"/>
<rect x="90" y="1365.67" width="182" height="3.6" fill="url(#gL)"/>
<rect x="806" y="1364.97" width="182" height="3.6" fill="url(#gR)"/>
<rect x="90" y="1380.81" width="182" height="3.6" fill="url(#gL)"/>
<rect x="806" y="1380.11" width="182" height="3.6" fill="url(#gR)"/>
<rect x="177.3" y="287.4" width="92.70" height="539.60" fill="#fef5f6" fill-opacity="0.25"/>
<rect x="177.3" y="840.5" width="89.90" height="437.10" fill="#fef5f6" fill-opacity="0.25"/>
<rect x="808" y="287.4" width="69.00" height="462.80" fill="#fef5f6" fill-opacity="0.25"/>
<rect x="808" y="763.5" width="69.00" height="63.50" fill="#fef5f6" fill-opacity="0.25"/>
<rect x="808" y="840.5" width="47.50" height="21.50" fill="#fef5f6" fill-opacity="0.25"/>
<rect x="808" y="862" width="69.00" height="249.30" fill="#fef5f6" fill-opacity="0.25"/>
<rect x="808" y="1119.0" width="69.00" height="158.60" fill="#fef5f6" fill-opacity="0.25"/>
<rect x="90" y="180.3" width="178" height="1.6" fill="url(#gL)"/>
<rect x="810" y="179.6" width="178" height="1.6" fill="url(#gR)"/>
<rect x="90" y="1392.9" width="178" height="1.7" fill="url(#gL)"/>
<rect x="810" y="1392.3" width="178" height="1.7" fill="url(#gR)"/>
<rect x="89" y="180.3" width="2" height="1214.3" fill="#444"/>
<rect x="987.4" y="180.3" width="2" height="1214.3" fill="#444"/></svg>
</body></html>
